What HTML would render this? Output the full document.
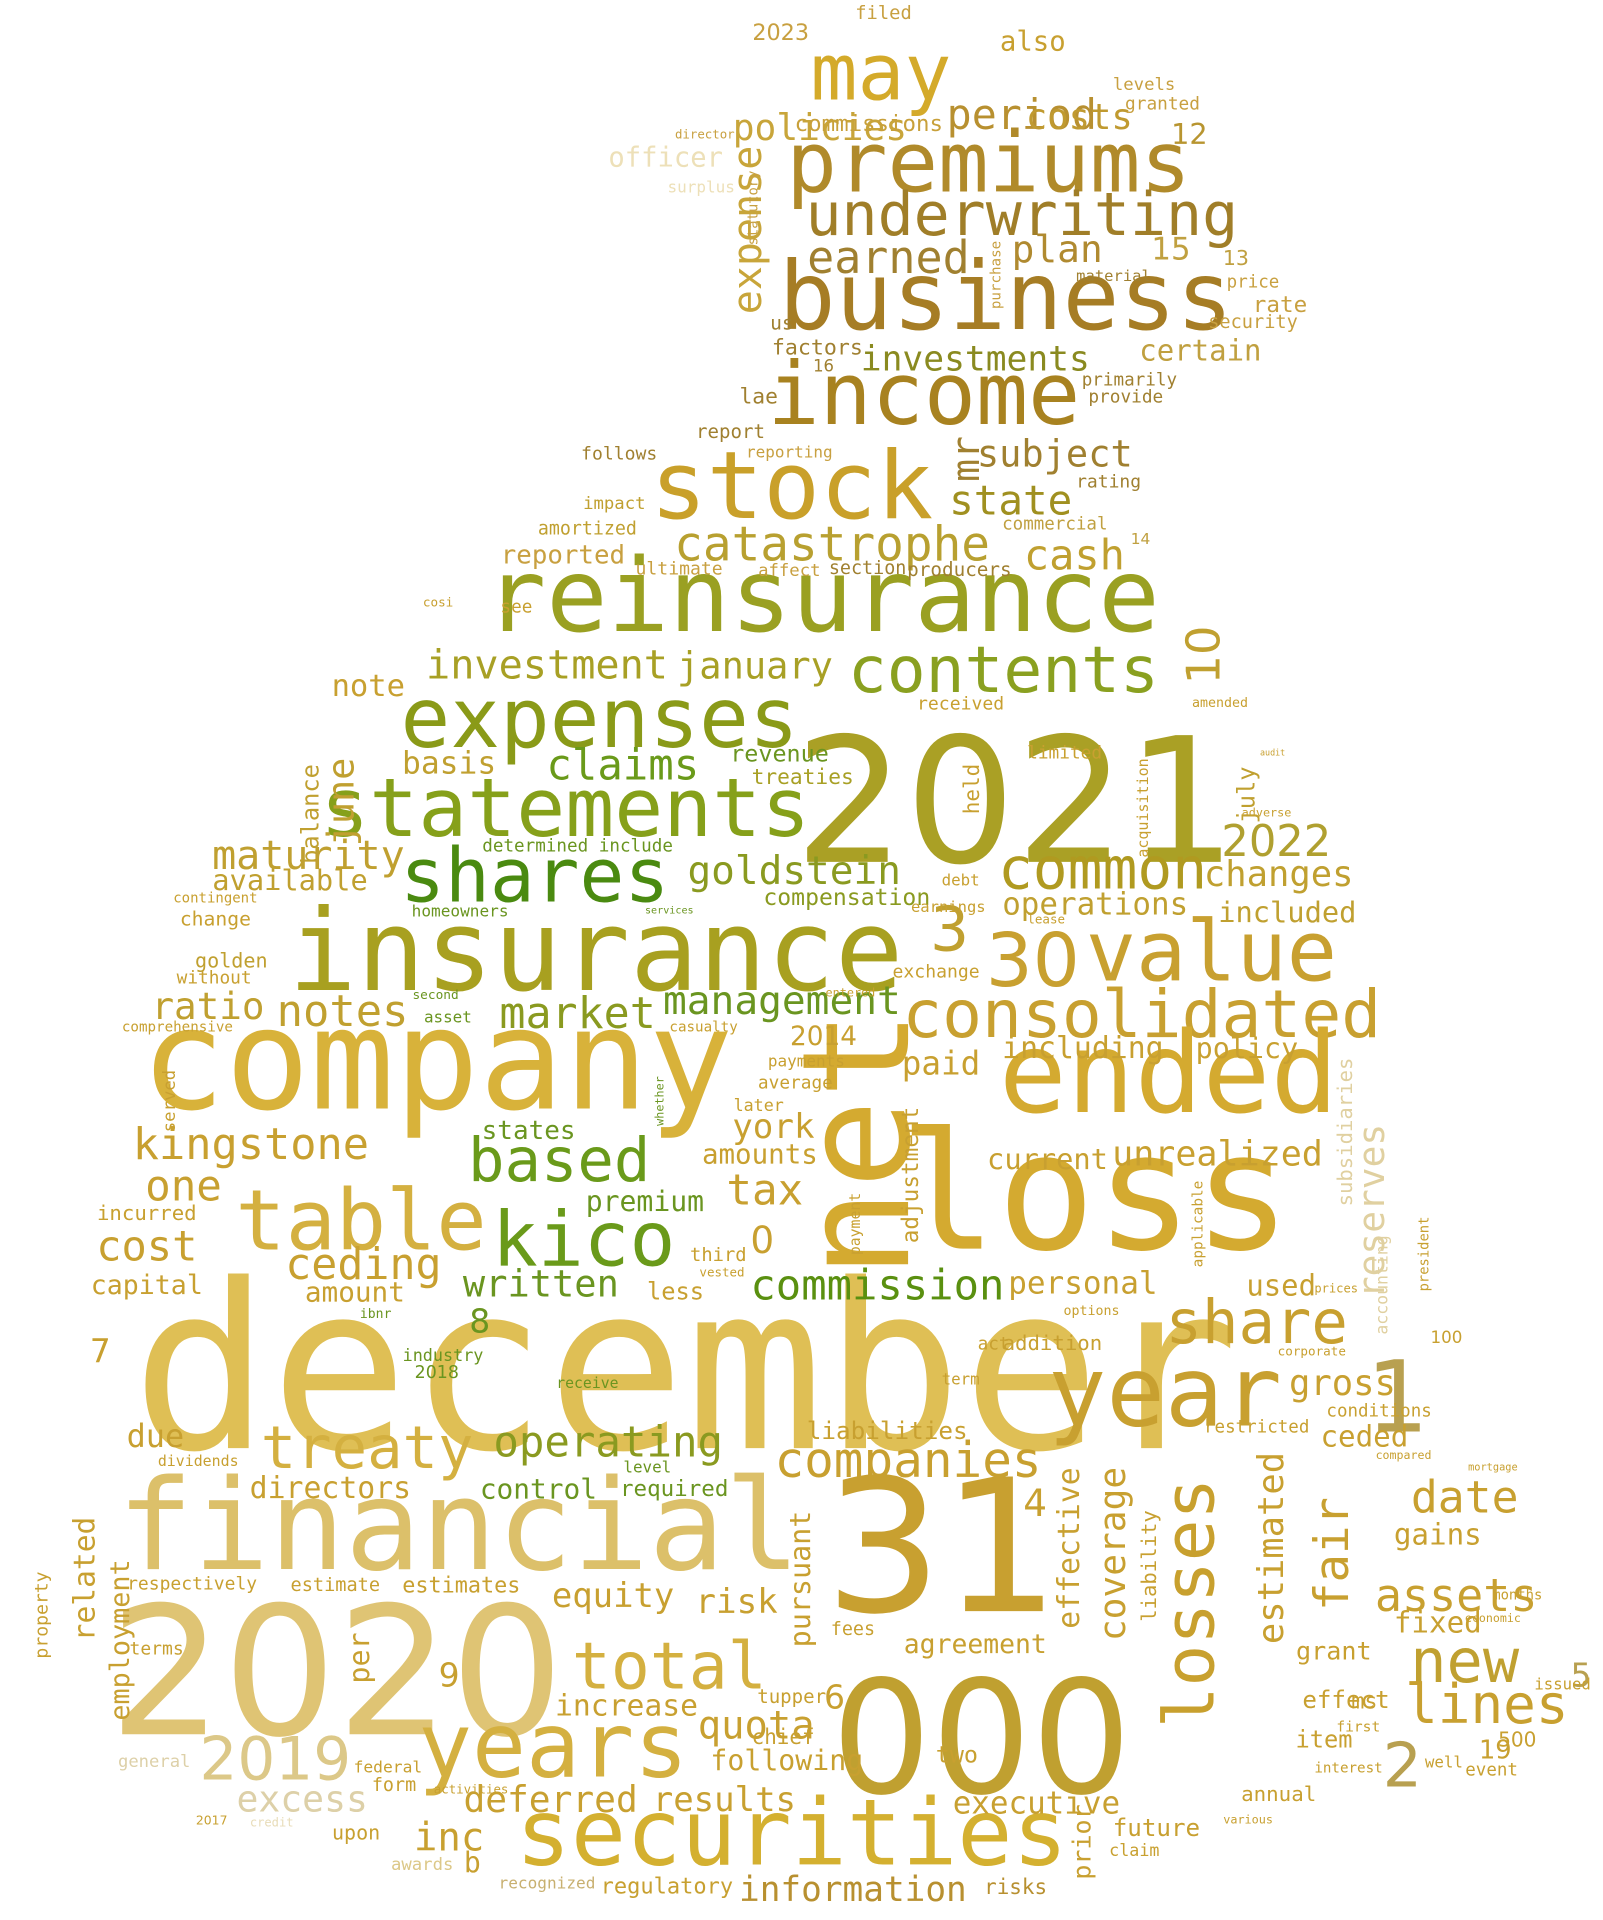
<!DOCTYPE html>
<html>
<head>
<meta charset="utf-8">
<style>
html,body{margin:0;padding:0;background:#fff;}
#cloud{position:relative;width:1603px;height:1920px;overflow:hidden;background:#fff;}
.w{position:absolute;white-space:nowrap;line-height:1;font-family:"DejaVu Sans Mono","Liberation Mono",monospace;}
.num{font-family:"DejaVu Sans","Liberation Sans",sans-serif;}
</style>
</head>
<body>
<div id="cloud"></div>
<script>
// word, centerX, centerY, inkWidth (reference display units), color, rotated
const words = [
["december",560,1125,890,"#dfbf55",0],
["2020",275,1372,360,"#dfc474",0],
["financial",375,1250,550,"#dcc06a",0],
["company",357,870,475,"#d8b23a",0],
["2021",830,660,350,"#aaa025",0],
["may",720,62,110,"#d4aa2a",0],
["premiums",808,135,325,"#b08a2a",0],
["underwriting",835,178,350,"#a07e28",0],
["business",822,245,365,"#a67d25",0],
["income",755,325,250,"#a88220",0],
["stock",647,400,225,"#c9a02a",0],
["reinsurance",672,490,545,"#9aa022",0],
["policies",670,105,140,"#c8a53a",0],
["period",835,95,120,"#b89030",0],
["costs",882,97,85,"#c09a30",0],
["also",844,35,52,"#c8a030",0],
["12",972,110,28,"#b89530",0],
["commissions",710,102,120,"#c8a03a",0],
["earned",726,212,130,"#a08030",0],
["plan",864,205,72,"#b08a30",0],
["15",957,205,30,"#c0a040",0],
["13",1010,212,20,"#c0a040",0],
["investments",797,295,185,"#8a8a20",0],
["certain",981,288,98,"#c0a040",0],
["expense",612,188,135,"#c8a53a",1],
["2023",638,28,45,"#c8a040",0],
["filed",722,12,45,"#c8a040",0],
["officer",544,130,92,"#ede0b8",0],
["surplus",573,154,54,"#ede0b8",0],
["director",576,110,48,"#c8a040",0],
["statutory",617,170,60,"#c8a040",1],
["factors",668,285,73,"#a08030",0],
["us",639,265,18,"#a08030",0],
["16",673,300,16,"#a08030",0],
["lae",620,325,30,"#a08030",0],
["report",597,353,55,"#a08030",0],
["follows",506,372,61,"#a08030",0],
["reporting",645,370,70,"#c8a040",0],
["mr",790,375,35,"#a08030",1],
["subject",862,372,125,"#a08030",0],
["state",826,410,98,"#a09020",0],
["catastrophe",680,447,255,"#b8a030",0],
["cash",878,455,80,"#c0a030",0],
["impact",502,413,50,"#c0a030",0],
["amortized",480,433,80,"#c0a030",0],
["reported",460,455,100,"#c8a040",0],
["ultimate",555,466,70,"#c8a040",0],
["affect",645,467,50,"#c8a040",0],
["section",709,466,62,"#a08030",0],
["producers",784,466,84,"#a08030",0],
["commercial",862,430,85,"#c0a040",0],
["rating",906,395,52,"#a08030",0],
["provide",920,325,60,"#a08030",0],
["primarily",923,312,77,"#a08030",0],
["price",1024,232,42,"#c8a040",0],
["rate",1046,250,43,"#c8a040",0],
["security",1024,265,72,"#c8a040",0],
["levels",935,70,50,"#c8a040",0],
["granted",950,86,60,"#c8a040",0],
["material",910,226,60,"#a08030",0],
["purchase",815,225,55,"#c8a040",1],
["14",932,441,15,"#c0a040",0],
["contents",820,550,250,"#8aa020",0],
["expenses",490,590,320,"#8a9a18",0],
["investment",447,545,195,"#a8a025",0],
["january",617,545,125,"#a8a025",0],
["statements",462,663,395,"#86a01a",0],
["claims",509,627,122,"#6a9a1a",0],
["basis",367,625,75,"#c0a030",0],
["revenue",637,617,79,"#6a9520",0],
["treaties",656,635,82,"#a8a025",0],
["shares",437,718,215,"#4a8a10",0],
["goldstein",649,713,172,"#8a9a20",0],
["common",901,712,167,"#b09a20",0],
["2022",1043,690,87,"#b0a030",0],
["july",1020,650,45,"#c0a030",1],
["10",985,535,45,"#c0a030",1],
["maturity",252,700,155,"#c0a030",0],
["available",237,720,125,"#c0a030",0],
["june",280,655,70,"#c0a030",1],
["balance",255,665,80,"#c0a030",1],
["insurance",487,780,495,"#a8a020",0],
["3",776,762,28,"#c0a030",0],
["value",990,780,200,"#c8a030",0],
["30",844,788,72,"#c8a030",0],
["consolidated",933,830,387,"#c8a030",0],
["market",472,830,125,"#8a9a20",0],
["management",639,820,192,"#6a9520",0],
["notes",280,828,105,"#c0a030",0],
["ratio",170,824,90,"#c0a030",0],
["golden",189,785,58,"#c0a030",0],
["operations",895,740,150,"#c0a030",0],
["changes",1045,716,120,"#c0a030",0],
["included",1052,746,111,"#c0a030",0],
["compensation",692,735,135,"#8a9a20",0],
["ended",955,880,270,"#d4aa30",0],
["net",705,935,210,"#d4aa30",1],
["loss",895,980,310,"#d4aa30",0],
["kingstone",205,937,190,"#c8a030",0],
["table",295,1000,200,"#d4b040",0],
["based",457,950,145,"#6a9a1a",0],
["kico",477,1015,145,"#6a9a1a",0],
["tax",625,975,60,"#c8a030",0],
["one",150,972,60,"#c8a030",0],
["cost",120,1020,80,"#c8a030",0],
["ceding",297,1035,125,"#c8a030",0],
["written",442,1050,125,"#6a9520",0],
["commission",717,1052,205,"#5a9010",0],
["share",1027,1083,145,"#c8a030",0],
["year",952,1140,185,"#c8a030",0],
["1",1142,1145,45,"#b8a050",0],
["reserves",1122,990,140,"#e0d0a0",1],
["subsidiaries",1100,925,120,"#e0d0a0",1],
["estimated",1040,1265,155,"#c8a030",1],
["fair",1090,1270,90,"#c8a030",1],
["losses",975,1310,200,"#c8a02e",1],
["31",770,1270,180,"#c8a030",0],
["000",802,1425,235,"#c0a030",0],
["treaty",300,1185,170,"#d4b040",0],
["operating",497,1180,185,"#8a9a20",0],
["companies",742,1195,215,"#c8a030",0],
["total",547,1365,155,"#d4b040",0],
["years",452,1430,215,"#d4b040",0],
["securities",647,1500,445,"#d4b030",0],
["2019",225,1440,120,"#dcc888",0],
["new",1197,1360,85,"#c0a030",0],
["lines",1215,1395,130,"#c8a030",0],
["assets",1190,1305,130,"#c8a030",0],
["date",1197,1225,85,"#c8a030",0],
["gains",1175,1255,70,"#c8a030",0],
["gross",1097,1132,85,"#c8a030",0],
["2",1146,1445,28,"#b8a050",0],
["5",1292,1370,15,"#b8a050",0],
["due",127,1175,45,"#c8a030",0],
["related",70,1290,100,"#c8a030",1],
["employment",100,1340,130,"#c8a030",1],
["risk",602,1310,65,"#c8a030",0],
["quota",618,1412,93,"#c8a030",0],
["equity",501,1305,98,"#c8a030",0],
["increase",512,1395,115,"#c8a030",0],
["deferred",450,1472,140,"#c8a030",0],
["results",592,1472,115,"#c8a030",0],
["information",697,1545,184,"#b89030",0],
["executive",847,1475,135,"#c8a030",0],
["future",945,1495,70,"#c8a030",0],
["excess",247,1472,105,"#ddd0a8",0],
["inc",367,1503,55,"#c8a030",0],
["b",386,1523,12,"#c8a030",0],
["coverage",910,1270,140,"#c8a030",1],
["effective",875,1265,130,"#c8a030",1],
["liability",940,1280,90,"#c8a030",1],
["pursuant",655,1290,110,"#c8a030",1],
["agreement",797,1345,115,"#c8a030",0],
["personal",885,1050,120,"#c8a030",0],
["unrealized",995,945,170,"#c8a030",0],
["current",856,948,97,"#c8a030",0],
["including",885,858,130,"#c8a030",0],
["policy",1019,858,82,"#c8a030",0],
["paid",769,870,62,"#c8a030",0],
["york",632,922,65,"#c8a030",0],
["amounts",621,945,93,"#c8a030",0],
["adjustment",745,960,110,"#c8a030",1],
["states",432,925,75,"#6a9520",0],
["premium",527,983,95,"#6a9520",0],
["0",623,1015,17,"#c8a030",0],
["8",392,1080,15,"#6a9520",0],
["7",82,1105,15,"#c8a030",0],
["9",367,1370,15,"#c8a030",0],
["6",682,1388,15,"#c8a030",0],
["4",846,1230,17,"#c8a030",0],
["directors",270,1218,130,"#c8a030",0],
["control",440,1218,94,"#6a9520",0],
["dividends",162,1195,65,"#c8a030",0],
["capital",120,1052,90,"#c8a030",0],
["amount",290,1057,80,"#c8a030",0],
["incurred",120,992,80,"#c8a030",0],
["fees",697,1333,35,"#c8a030",0],
["chief",640,1420,50,"#c8a030",0],
["following",643,1440,123,"#c8a030",0],
["grant",1090,1350,60,"#c8a030",0],
["effect",1100,1390,70,"#c8a030",0],
["fixed",1175,1327,70,"#c8a030",0],
["item",1082,1423,45,"#c8a030",0],
["annual",1045,1467,60,"#c8a030",0],
["tupper",647,1387,55,"#c8a030",0],
["prior",885,1505,60,"#c8a030",1],
["estimate",274,1297,72,"#c8a030",0],
["estimates",377,1297,95,"#c8a030",0],
["respectively",157,1295,105,"#c8a030",0],
["property",35,1320,70,"#c8a030",1],
["per",295,1355,40,"#c8a030",1],
["regulatory",545,1543,107,"#c8a030",0],
["risks",830,1543,50,"#b89030",0],
["recognized",447,1540,78,"#c8b070",0],
["awards",345,1525,50,"#dcc888",0],
["federal",317,1445,55,"#c8a030",0],
["form",322,1460,35,"#c8a030",0],
["activities",385,1463,60,"#c8a030",0],
["upon",291,1498,38,"#c8a030",0],
["credit",222,1490,35,"#e8dcb8",0],
["terms",128,1348,43,"#c8a030",0],
["general",126,1441,58,"#ddd0a8",0],
["ms",1115,1392,20,"#c8a030",0],
["500",1240,1422,30,"#c8a030",0],
["19",1222,1432,25,"#c8a030",0],
["well",1180,1441,30,"#c8a030",0],
["interest",1102,1446,55,"#c8a030",0],
["event",1219,1448,42,"#c8a030",0],
["issued",1277,1378,45,"#c8a030",0],
["100",1182,1093,25,"#c8a030",0],
["mortgage",1220,1200,40,"#c8a030",0],
["conditions",1127,1155,85,"#c8a030",0],
["ceded",1115,1175,70,"#c8a030",0],
["compared",1147,1190,45,"#c8a030",0],
["restricted",1027,1168,85,"#c8a030",0],
["used",1047,1052,55,"#c8a030",0],
["prices",1092,1053,35,"#c8a030",0],
["applicable",980,1000,70,"#c8a030",1],
["accounting",1130,1050,80,"#e0d0a0",1],
["corporate",1072,1105,55,"#c8a030",0],
["addition",860,1098,80,"#c8a030",0],
["options",892,1072,45,"#c8a030",0],
["act",812,1100,25,"#c8a030",0],
["term",785,1128,30,"#c8a030",0],
["industry",362,1108,65,"#6a9520",0],
["2018",357,1123,35,"#6a9520",0],
["ibnr",307,1075,25,"#6a9520",0],
["less",552,1057,45,"#c8a030",0],
["third",587,1027,45,"#c8a030",0],
["vested",590,1040,36,"#c8a030",0],
["receive",480,1132,50,"#6a9520",0],
["level",529,1200,38,"#6a9520",0],
["required",551,1218,87,"#6a9520",0],
["liabilities",725,1170,130,"#c8a030",0],
["2014",673,848,53,"#c8a030",0],
["payments",659,868,62,"#c8a030",0],
["average",650,886,60,"#c8a030",0],
["later",620,904,40,"#c8a030",0],
["entered",695,812,40,"#c8a030",0],
["exchange",765,795,70,"#c8a030",0],
["homeowners",376,745,78,"#6a9520",0],
["services",547,745,39,"#6a9520",0],
["determined include",472,693,155,"#6a9520",0],
["held",795,645,40,"#c8a030",1],
["debt",785,720,30,"#c8a030",0],
["earnings",775,742,60,"#c8a030",0],
["lease",855,752,30,"#c8a030",0],
["acquisition",935,660,80,"#c8a030",1],
["limited",870,616,60,"#c8a030",0],
["received",785,576,70,"#c8a030",0],
["amended",997,575,45,"#c8a030",0],
["audit",1040,615,20,"#c8a030",0],
["adverse",1035,665,40,"#c8a030",0],
["note",301,562,58,"#c8a030",0],
["cosi",358,493,24,"#c8a030",0],
["see",422,498,25,"#c8a030",0],
["change",176,752,57,"#c8a030",0],
["contingent",176,735,68,"#c8a030",0],
["without",175,800,60,"#c8a030",0],
["comprehensive",145,840,90,"#c8a030",0],
["casualty",575,840,55,"#c8a030",0],
["second",356,815,37,"#6a9520",0],
["asset",366,832,38,"#6a9520",0],
["2017",173,1488,25,"#c8a030",0],
["two",782,1435,33,"#c8a030",0],
["first",1110,1412,35,"#c8a030",0],
["months",1240,1305,40,"#c8a030",0],
["economic",1220,1323,45,"#c8a030",0],
["various",1020,1488,40,"#c8a030",0],
["claim",927,1513,40,"#c8a030",0],
["president",1165,1025,60,"#c8a030",1],
["payment",700,1000,50,"#c8a030",1],
["whether",540,900,40,"#6a9520",1],
["served",140,900,50,"#c8a030",1]
];
const S = 1603/1310;
const cloud = document.getElementById('cloud');
const cv = document.createElement('canvas').getContext('2d');
for (const [t, cx, cy, w, col, rot] of words) {
  const isNum = /^\d+$/.test(t);
  cv.font = isNum ? '100px "DejaVu Sans", sans-serif' : '100px "DejaVu Sans Mono", monospace';
  const adv = cv.measureText(t).width / 100;
  const ink = Math.max(adv - 0.08, 0.3);
  const fs = (w * S) / ink;
  const el = document.createElement('div');
  
  
  el.className = isNum ? 'w num' : 'w';
  el.textContent = t;
  el.style.fontSize = fs.toFixed(1) + 'px';
  el.style.color = col;
  el.style.left = (cx * S).toFixed(1) + 'px';
  el.style.top = (cy * S).toFixed(1) + 'px';
  el.style.transform = 'translate(-50%,-50%)' + (rot ? ' rotate(-90deg)' : '') + ' translateY(-0.03em)';
  cloud.appendChild(el);
}
</script>
</body>
</html>
